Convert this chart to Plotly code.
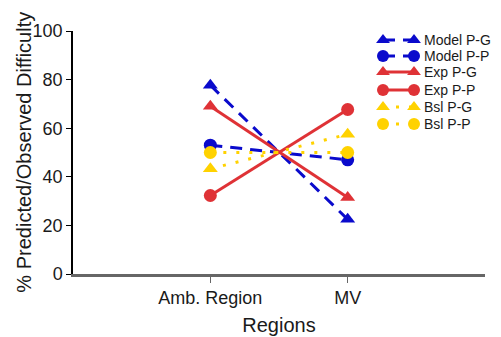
import plotly.graph_objects as go

# Categories and series values (percent)
regions = ["Amb. Region", "MV"]
region_pos = [1, 2]

model_pg = [77.7, 22.5]
model_pp = [53.0, 47.0]
exp_pg = [69.0, 31.5]
exp_pp = [32.3, 67.7]
bsl_pg = [43.3, 57.5]
bsl_pp = [50.0, 50.0]

series_names = ["Model P-G", "Model P-P", "Exp P-G", "Exp P-P", "Bsl P-G", "Bsl P-P"]
series_values = [model_pg, model_pp, exp_pg, exp_pp, bsl_pg, bsl_pp]

BLUE = "#0a0acc"
RED = "#df3236"
GOLD = "#ffd200"

styles = [
    dict(color=BLUE, dash="dash", symbol="triangle-up"),
    dict(color=BLUE, dash="dash", symbol="circle"),
    dict(color=RED, dash="solid", symbol="triangle-up"),
    dict(color=RED, dash="solid", symbol="circle"),
    dict(color=GOLD, dash="dot", symbol="triangle-up"),
    dict(color=GOLD, dash="dot", symbol="circle"),
]

DASHES = {"dash": "12px,8px", "solid": "solid", "dot": "3px,10px"}

fig = go.Figure()

for name, vals, st in zip(series_names, series_values, styles):
    fig.add_trace(go.Scatter(
        x=region_pos, y=vals, mode="lines+markers", name=name,
        line=dict(color=st["color"], width=3, dash=DASHES[st["dash"]]),
        marker=dict(symbol=st["symbol"], size=13, color=st["color"]),
        showlegend=False, cliponaxis=False,
    ))

# Hand-drawn legend on a pixel-like overlay axis (markers at both ends of each sample line)
legend_rows = [40, 56, 72, 90, 107, 124]
for name, row, st in zip(series_names, legend_rows, styles):
    fig.add_trace(go.Scatter(
        x=[383, 414], y=[row, row], mode="lines+markers",
        line=dict(color=st["color"], width=3, dash=DASHES[st["dash"]]),
        marker=dict(symbol=st["symbol"], size=12, color=st["color"]),
        xaxis="x2", yaxis="y2", showlegend=False, hoverinfo="skip",
        cliponaxis=False,
    ))
    fig.add_annotation(
        x=423, y=row, xref="x2", yref="y2", text=name, showarrow=False,
        xanchor="left", yanchor="middle", borderpad=0,
        font=dict(size=14, color="#1a1a1a", family="Liberation Sans, Arial"),
    )

# Y-axis title placed as rotated text left of the tick labels
fig.add_annotation(
    x=-0.121, y=0.5, xref="paper", yref="paper", textangle=-90,
    text="% Predicted/Observed Difficulty", showarrow=False,
    xanchor="center", yanchor="middle",
    font=dict(size=20, color="#1a1a1a", family="Liberation Sans, Arial"),
)

fig.update_layout(
    width=501, height=337,
    margin=dict(l=73, r=16, t=31, b=63, autoexpand=False),
    plot_bgcolor="white", paper_bgcolor="white",
    font=dict(family="Liberation Sans, Arial", size=18, color="#1a1a1a"),
    xaxis=dict(
        range=[0, 3], tickvals=region_pos, ticktext=regions,
        showgrid=False, zeroline=False, automargin=False,
        showline=True, linecolor="#666666", linewidth=2.5,
        ticks="outside", ticklen=6, tickcolor="#666666", tickwidth=1.2,
        tickfont=dict(size=18),
        title=dict(text="Regions", font=dict(size=20), standoff=11),
    ),
    yaxis=dict(
        range=[0, 100], tickvals=[0, 20, 40, 60, 80, 100],
        showgrid=False, zeroline=False, automargin=False,
        showline=True, linecolor="black", linewidth=1.5,
        ticks="outside", ticklen=5, tickcolor="black", tickwidth=1.2,
        tickfont=dict(size=18),
    ),
    xaxis2=dict(overlaying="x", range=[73, 485], visible=False, domain=[0, 1]),
    yaxis2=dict(overlaying="y", range=[274, 31], visible=False),
)

fig.write_html("out.html")
